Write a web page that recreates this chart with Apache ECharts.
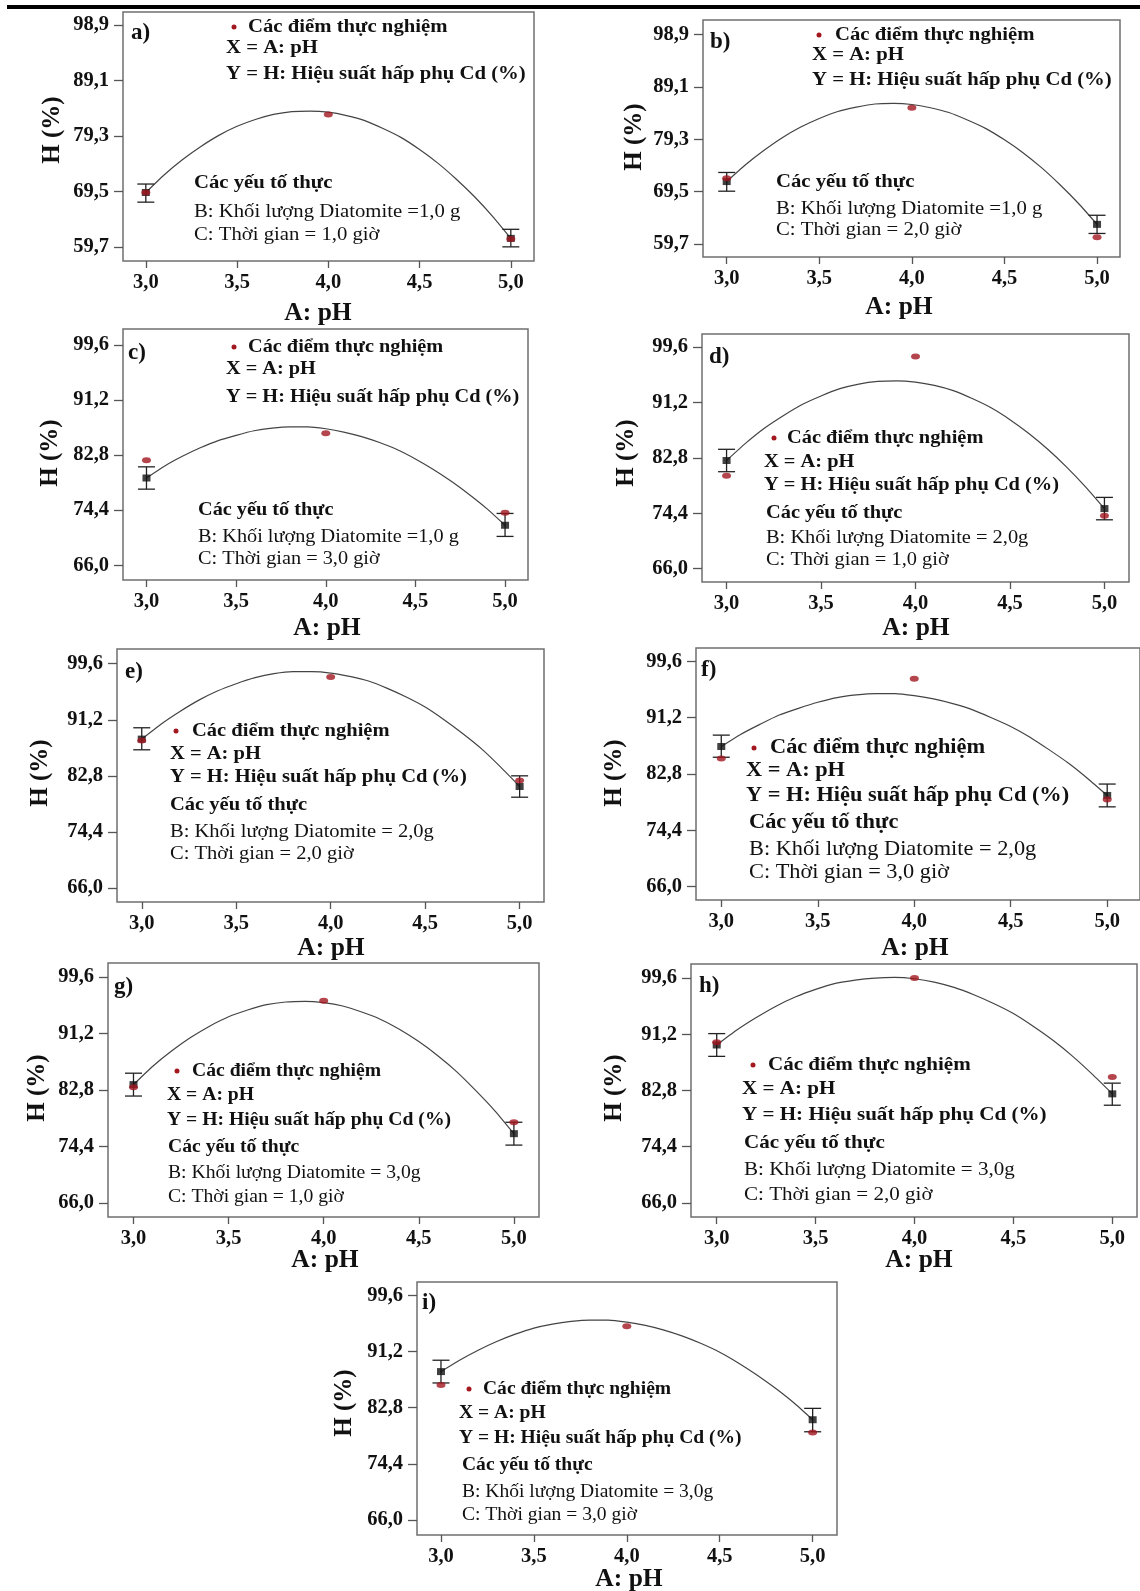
<!DOCTYPE html>
<html lang="vi">
<head>
<meta charset="UTF-8">
<title>H (%) theo pH</title>
<script src="https://cdn.jsdelivr.net/npm/echarts@6/dist/echarts.min.js"></script>
<style>html,body{margin:0;padding:0;background:#fff}</style>
</head>
<body>
<div id="main" style="width:1140px;height:1591px"></div>
<script>
// nhãn các đồ thị con
var panelTags = ['a)', 'b)', 'c)', 'd)', 'e)', 'f)', 'g)', 'h)', 'i)'];
var massB = ['=1,0 g', '=1,0 g', '=1,0 g', '= 2,0g', '= 2,0g', '= 2,0g', '= 3,0g', '= 3,0g', '= 3,0g'];
var timeC = ['1,0', '2,0', '3,0', '1,0', '2,0', '3,0', '1,0', '2,0', '3,0'];

// điểm thực nghiệm (pH 3, 4, 5)
var pH = [3, 4, 5];
var measuredH = [
    [69.3, 83.1, 61.1],
    [72.0, 85.2, 61.0],
    [82.0, 86.1, 74.0],
    [80.1, 98.2, 74.0],
    [88.1, 97.6, 82.1],
    [85.1, 97.0, 79.0],
    [83.2, 96.1, 78.0],
    [90.0, 99.6, 84.8],
    [86.2, 95.0, 79.1]
];

// giá trị dự đoán + khoảng tin cậy tại pH 3 và 5
var predX = [3, 5];
var predictedH = [
    [69.3, 61.2], [71.4, 63.4], [79.3, 72.1],
    [82.4, 75.1], [88.3, 81.2], [86.9, 79.6],
    [83.6, 76.3], [89.6, 82.3], [88.2, 81.0]
];
var ciLow = [
    [67.6, 59.7], [69.6, 61.7], [77.6, 70.4],
    [80.7, 73.4], [86.7, 79.6], [85.3, 77.9],
    [81.9, 74.6], [87.9, 80.6], [86.5, 79.2]
];
var ciHigh = [
    [70.8, 62.8], [73.1, 65.1], [81.0, 73.9],
    [84.1, 76.8], [90.0, 82.8], [88.6, 81.3],
    [85.3, 78.0], [91.3, 83.9], [89.9, 82.7]
];

// đường mô hình, pH 3,0 -> 5,0 bước 0,1
var curveX = [3, 3.1, 3.2, 3.3, 3.4, 3.5, 3.6, 3.7, 3.8, 3.9, 4, 4.1, 4.2, 4.3, 4.4, 4.5, 4.6, 4.7, 4.8, 4.9, 5];
var curveH = [
    [69.3, 72.4, 75.1, 77.4, 79.4, 81.0, 82.2, 83.1, 83.6, 83.7, 83.5, 82.9, 82.0, 80.6, 79.0, 76.9, 74.5, 71.7, 68.6, 65.1, 61.2],
    [71.4, 74.5, 77.2, 79.6, 81.6, 83.2, 84.5, 85.3, 85.9, 86.0, 85.8, 85.2, 84.3, 82.9, 81.3, 79.2, 76.8, 74.0, 70.8, 67.3, 63.4],
    [79.3, 81.1, 82.6, 83.9, 85.0, 85.8, 86.5, 86.9, 87.1, 87.1, 86.8, 86.3, 85.6, 84.7, 83.6, 82.2, 80.6, 78.8, 76.8, 74.6, 72.1],
    [82.4, 85.0, 87.3, 89.2, 90.9, 92.2, 93.3, 94.0, 94.4, 94.5, 94.3, 93.8, 93.0, 91.8, 90.4, 88.6, 86.5, 84.1, 81.4, 78.4, 75.1],
    [88.3, 90.5, 92.4, 94.1, 95.5, 96.6, 97.5, 98.1, 98.4, 98.4, 98.2, 97.7, 97.0, 95.9, 94.6, 93.1, 91.2, 89.1, 86.8, 84.1, 81.2],
    [86.9, 88.7, 90.2, 91.6, 92.6, 93.5, 94.2, 94.6, 94.8, 94.8, 94.5, 94.0, 93.3, 92.4, 91.2, 89.9, 88.3, 86.4, 84.4, 82.1, 79.6],
    [83.6, 86.3, 88.6, 90.6, 92.3, 93.7, 94.7, 95.5, 95.9, 96.0, 95.8, 95.3, 94.4, 93.3, 91.8, 90.0, 87.9, 85.5, 82.7, 79.7, 76.3],
    [89.6, 91.8, 93.7, 95.4, 96.8, 97.9, 98.8, 99.3, 99.6, 99.7, 99.5, 99.0, 98.2, 97.1, 95.8, 94.3, 92.4, 90.3, 87.9, 85.2, 82.3],
    [88.2, 89.9, 91.4, 92.7, 93.8, 94.7, 95.3, 95.7, 95.9, 95.9, 95.6, 95.1, 94.4, 93.5, 92.4, 91.1, 89.5, 87.7, 85.7, 83.5, 81.0]
];

var xTicks = [3, 3.5, 4, 4.5, 5];
var yTicksAB = [59.7, 69.5, 79.3, 89.1, 98.9];
var yTicksRest = [66.0, 74.4, 82.8, 91.2, 99.6];

// vị trí từng khung (px)
var layout = [
    {grid: [123, 12, 411, 249], x: [2.875, 5.127], y: [57.2, 101.2], ab: true,
     tag: [131, 33], dot: [234, 248, 27], xy: [226, 48, 74], fac: [194, 183, 212, 235], yname: [53, 130], xname: [318, 313], fs: 20.7},
    {grid: [703, 20, 417, 237], x: [2.872, 5.124], y: [57.3, 101.6], ab: true,
     tag: [710, 42], dot: [819, 835, 35], xy: [812, 55, 80], fac: [776, 182, 209, 230], yname: [635, 137], xname: [899, 307], fs: 20.7},
    {grid: [123, 329, 405, 251], x: [2.869, 5.128], y: [63.76, 102.0],
     tag: [128, 353], dot: [234, 248, 347], xy: [226, 369, 397], fac: [198, 510, 537, 559], yname: [51, 453], xname: [327, 628], fs: 20.3},
    {grid: [702, 334, 427, 248], x: [2.87, 5.13], y: [63.96, 101.6],
     tag: [709, 357], dot: [774, 787, 438], xy: [764, 462, 485], fac: [766, 513, 538, 560], yname: [627, 453], xname: [916, 628], fs: 20.4},
    {grid: [117, 649, 427, 253], x: [2.869, 5.129], y: [63.9, 101.8],
     tag: [125, 672], dot: [176, 192, 731], xy: [170, 754, 777], fac: [170, 805, 832, 854], yname: [41, 773], xname: [331, 948], fs: 20.5},
    {grid: [696, 648, 454, 252], x: [2.869, 5.17], y: [64.0, 101.6],
     tag: [701, 670], dot: [754, 770, 748], xy: [746, 771, 796], fac: [749, 823, 850, 873], yname: [615, 773], xname: [915, 948], fs: 22.4},
    {grid: [108, 963, 431, 254], x: [2.866, 5.132], y: [63.9, 101.7],
     tag: [114, 987], dot: [177, 192, 1071], xy: [167, 1095, 1120], fac: [168, 1147, 1173, 1197], yname: [38, 1088], xname: [325, 1260], fs: 19.7},
    {grid: [691, 964, 446, 253], x: [2.87, 5.125], y: [63.9, 101.7],
     tag: [699, 986], dot: [753, 768, 1065], xy: [742, 1089, 1115], fac: [744, 1143, 1170, 1195], yname: [615, 1088], xname: [919, 1260], fs: 21.1},
    {grid: [417, 1282, 420, 253], x: [2.871, 5.131], y: [63.76, 101.6],
     tag: [422, 1303], dot: [469, 483, 1389], xy: [459, 1413, 1438], fac: [462, 1465, 1492, 1515], yname: [345, 1403], xname: [629, 1579], fs: 19.5}
];

var FONT = '"Liberation Serif", "Times New Roman", serif';
var RED = '#a3171f';
var STRETCH = 1.08;

function fmt(v) {
    return v.toFixed(1).replace('.', ',');
}

function txt(x, y, text, font, align, sx) {
    return {
        type: 'text', x: x, y: y, scaleX: sx || 1, silent: true,
        style: {text: text, font: font, fill: '#111', textAlign: align || 'left', textVerticalAlign: 'middle',
                align: align || 'left', verticalAlign: 'middle'}
    };
}

function errorBar(params, api) {
    var x = api.value(0);
    var top = api.coord([x, api.value(2)]);
    var bot = api.coord([x, api.value(1)]);
    var w = 8.5;
    var st = {stroke: '#222', lineWidth: 1.3};
    return {
        type: 'group',
        children: [
            {type: 'line', shape: {x1: top[0], y1: top[1], x2: bot[0], y2: bot[1]}, style: st},
            {type: 'line', shape: {x1: top[0] - w, y1: top[1], x2: top[0] + w, y2: top[1]}, style: st},
            {type: 'line', shape: {x1: bot[0] - w, y1: bot[1], x2: bot[0] + w, y2: bot[1]}, style: st}
        ]
    };
}

var grids = [], xAxes = [], yAxes = [], series = [];
var graphics = [{type: 'rect', shape: {x: 7, y: 5, width: 1133, height: 4}, style: {fill: '#000'}}];

layout.forEach(function (L, i) {
    var yTicks = L.ab ? yTicksAB : yTicksRest;
    var size = (L.fs / STRETCH).toFixed(1);
    var bold = 'bold ' + size + 'px ' + FONT;
    var normal = size + 'px ' + FONT;
    var labelStyle = {margin: 11, formatter: fmt, color: '#111', fontFamily: FONT, fontWeight: 'bold', fontSize: 20.5};

    grids.push({
        left: L.grid[0], top: L.grid[1], width: L.grid[2], height: L.grid[3],
        show: true, borderColor: '#6f6f6f', borderWidth: 1.5, backgroundColor: 'transparent'
    });
    xAxes.push({
        type: 'value', gridIndex: i, min: L.x[0], max: L.x[1],
        splitLine: {show: false}, axisLine: {show: false},
        axisTick: {show: true, length: 7, customValues: xTicks, lineStyle: {color: '#555', width: 1.3}},
        axisLabel: Object.assign({customValues: xTicks}, labelStyle)
    });
    yAxes.push({
        type: 'value', gridIndex: i, min: L.y[0], max: L.y[1],
        splitLine: {show: false}, axisLine: {show: false},
        axisTick: {show: true, length: 9, customValues: yTicks, lineStyle: {color: '#555', width: 1.3}},
        axisLabel: Object.assign({customValues: yTicks}, labelStyle, {margin: 14})
    });

    series.push({
        type: 'line', xAxisIndex: i, yAxisIndex: i, smooth: 0.2, symbol: 'none', silent: true,
        lineStyle: {color: '#444', width: 1.2}, z: 2,
        data: curveX.map(function (x, k) { return [x, curveH[i][k]]; })
    });
    series.push({
        type: 'custom', xAxisIndex: i, yAxisIndex: i, renderItem: errorBar, silent: true, z: 3,
        encode: {x: 0, y: [1, 2]},
        data: predX.map(function (x, k) { return [x, ciLow[i][k], ciHigh[i][k]]; })
    });
    series.push({
        type: 'scatter', xAxisIndex: i, yAxisIndex: i, symbol: 'rect', symbolSize: [8, 7], silent: true, z: 4,
        itemStyle: {color: '#111'},
        data: predX.map(function (x, k) { return [x, predictedH[i][k]]; })
    });
    series.push({
        type: 'scatter', xAxisIndex: i, yAxisIndex: i, symbol: 'circle', symbolSize: [9, 6], silent: true, z: 5,
        itemStyle: {color: RED},
        data: pH.map(function (x, k) { return [x, measuredH[i][k]]; })
    });

    graphics.push(txt(L.tag[0], L.tag[1], panelTags[i], 'bold 23px ' + FONT));
    graphics.push({type: 'circle', shape: {cx: L.dot[0], cy: L.dot[2], r: 2.5}, style: {fill: RED}});
    graphics.push(txt(L.dot[1], L.dot[2], 'Các điểm thực nghiệm', bold, 'left', STRETCH));
    graphics.push(txt(L.xy[0], L.xy[1], 'X = A: pH', bold, 'left', STRETCH));
    graphics.push(txt(L.xy[0], L.xy[2], 'Y = H: Hiệu suất hấp phụ Cd (%)', bold, 'left', STRETCH));
    graphics.push(txt(L.fac[0], L.fac[1], 'Các yếu tố thực', bold, 'left', STRETCH));
    graphics.push(txt(L.fac[0], L.fac[2], 'B: Khối lượng Diatomite ' + massB[i], normal, 'left', STRETCH));
    graphics.push(txt(L.fac[0], L.fac[3], 'C: Thời gian = ' + timeC[i] + ' giờ', normal, 'left', STRETCH));
    graphics.push(txt(L.xname[0], L.xname[1], 'A: pH', 'bold 25.5px ' + FONT, 'center'));
    var yn = txt(L.yname[0], L.yname[1], 'H (%)', 'bold 25px ' + FONT, 'center');
    yn.rotation = Math.PI / 2;
    graphics.push(yn);
});

var chart = echarts.init(document.getElementById('main'));
chart.setOption({
    animation: false,
    backgroundColor: '#fff',
    grid: grids,
    xAxis: xAxes,
    yAxis: yAxes,
    series: series,
    graphic: graphics
});
</script>
</body>
</html>
